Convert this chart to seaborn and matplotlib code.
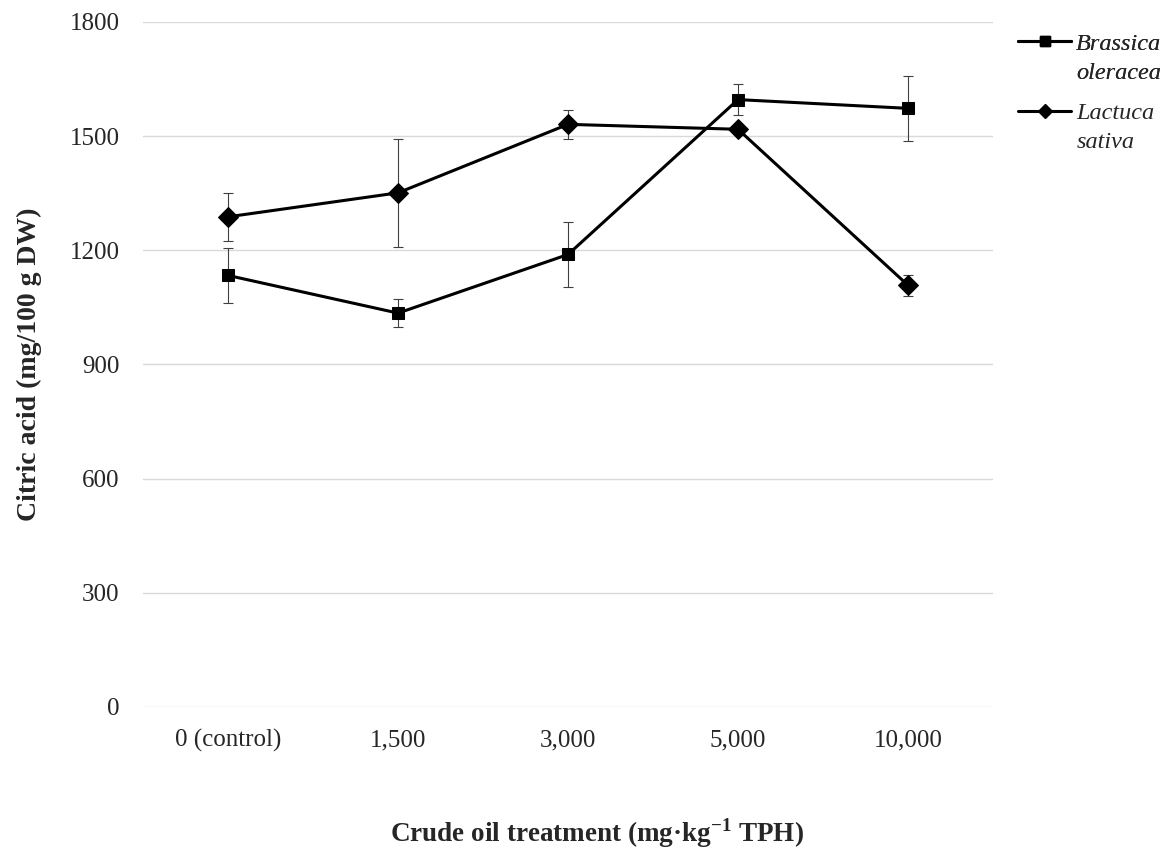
import matplotlib
matplotlib.use("Agg")
import matplotlib.pyplot as plt
from matplotlib.lines import Line2D
import seaborn as sns
import pandas as pd
import numpy as np

treatments = ['0 (control)', '1,500', '3,000', '5,000', '10,000']
brassica = [1134, 1035, 1189, 1596, 1573]
brassica_err = [72, 36, 86, 40, 86]
lactuca = [1288, 1351, 1531, 1518, 1108]
lactuca_err = [63, 141, 38, 12, 27]

df_b = pd.DataFrame({'treatment': treatments, 'value': brassica})
df_l = pd.DataFrame({'treatment': treatments, 'value': lactuca})

sns.set_style("white")
plt.rcParams['font.family'] = ['Liberation Serif', 'DejaVu Serif']
plt.rcParams['mathtext.fontset'] = 'custom'
plt.rcParams['mathtext.bf'] = 'Liberation Serif:bold'
plt.rcParams['mathtext.rm'] = 'Liberation Serif'

fig = plt.figure(figsize=(11.76, 8.58), dpi=100)
ax = fig.add_axes([0.1216, 0.176, 0.7228, 0.7984])

x = np.arange(len(treatments))
for vals, errs in [(brassica, brassica_err), (lactuca, lactuca_err)]:
    ax.errorbar(x, vals, yerr=errs, fmt='none', ecolor='#404040',
                elinewidth=0.8, capsize=3.8, capthick=0.8, zorder=2)

sns.lineplot(data=df_b, x='treatment', y='value', color='black', marker='s',
             markersize=8.5, linewidth=2.2, markeredgecolor='black', ax=ax,
             sort=False, zorder=3)
sns.lineplot(data=df_l, x='treatment', y='value', color='black', marker='D',
             markersize=10.5, linewidth=2.2, markeredgecolor='black', ax=ax,
             sort=False, zorder=3)

ax.set_xlim(-0.5, 4.5)
ax.set_ylim(0, 1800)
ax.set_yticks(np.arange(0, 1801, 300))
ax.set_xticks(x)
ax.set_xticklabels(treatments)
ax.yaxis.grid(True, color='#d9d9d9', linewidth=1)
ax.xaxis.grid(False)
for s in ax.spines.values():
    s.set_visible(False)
ax.tick_params(axis='both', length=0, labelsize=18)
ax.tick_params(axis='x', pad=16)
ax.tick_params(axis='y', pad=17)

ax.set_ylabel('Citric acid (mg/100 g DW)', fontsize=20, fontweight='bold', labelpad=20)
ax.set_xlabel(r'Crude oil treatment (mg·kg$^{\mathbf{-1}}$ TPH)', fontsize=19.5,
              fontweight='bold')
ax.xaxis.set_label_coords(0.534, -0.16)

blank = Line2D([], [], linestyle='none', marker=None)
h_b = Line2D([], [], color='black', linewidth=2.2, marker='s', markersize=7)
h_l = Line2D([], [], color='black', linewidth=2.2, marker='D', markersize=7.5)
kw = dict(loc='upper left', frameon=False, prop={'style': 'italic', 'size': 17.5},
          handlelength=2.2, handletextpad=0.2, labelspacing=0.3,
          borderpad=0, borderaxespad=0)
leg1 = fig.legend([h_b, blank], ['Brassica', 'oleracea'],
                  bbox_to_anchor=(0.8656, 0.962), **kw)
fig.add_artist(leg1)
fig.legend([h_l, blank], ['Lactuca', 'sativa'],
           bbox_to_anchor=(0.8656, 0.881), **kw)

fig.savefig('out.png', dpi=100)
